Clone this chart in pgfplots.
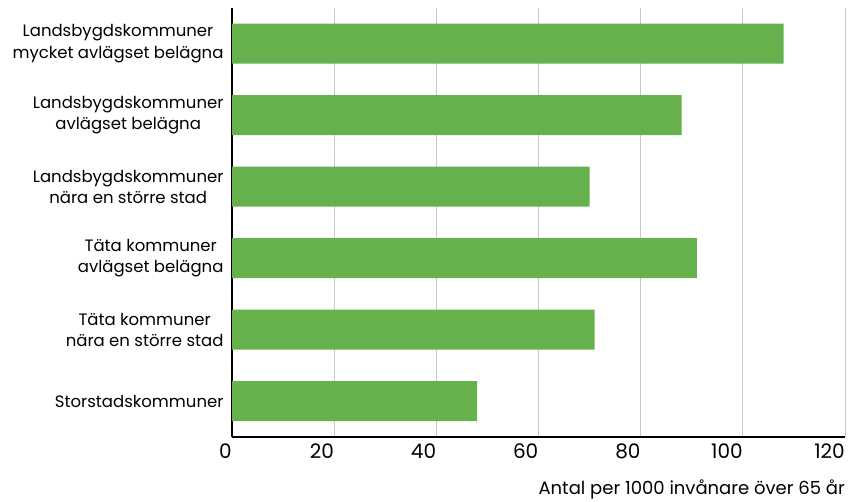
\documentclass[border=0pt]{standalone}
\usepackage{pgfplots}
\pgfplotsset{compat=1.18}
\usepackage{fontspec}
\setmainfont{Poppins}
\definecolor{barGreen}{RGB}{103,177,77}
\definecolor{gridGray}{RGB}{200,200,200}
\begin{document}
\begin{tikzpicture}[x=1pt,y=1pt]
\begin{axis}[
  at={(232pt,65pt)},
  anchor=south west,
  scale only axis,
  width=613pt, height=429pt,
  xbar, bar width=40pt,
  xmin=0, xmax=120,
  ymin=-0.5, ymax=5.5,
  xtick={0,20,...,120},
  ytick={0,...,5},
  yticklabels={
    Storstadskommuner,
    {Täta kommuner\\nära en större stad},
    {Täta kommuner\\avlägset belägna},
    {Landsbygdskommuner\\nära en större stad},
    {Landsbygdskommuner\\avlägset belägna},
    {Landsbygdskommuner\\mycket avlägset belägna}},
  yticklabel style={align=center, font=\fontsize{16.5}{21.5}\selectfont, xshift=-5pt},
  xticklabel style={font=\fontsize{20}{22}\selectfont, anchor=north east, inner xsep=0pt, yshift=-3pt},
  /pgf/number format/assume math mode=true,
  major tick length=0pt,
  axis lines=left,
  axis line style={-, black, line width=1.4pt},
  xmajorgrids,
  grid style={gridGray, line width=0.9pt},
  clip=false,
]
\addplot[fill=barGreen, draw=none] coordinates {
  (48,0) (71,1) (91,2) (70,3) (88,4) (108,5)
};
\end{axis}
\node[anchor=south east, font=\fontsize{18}{20}\selectfont, inner sep=0pt] at (845pt,3pt) {Antal per 1000 invånare över 65 år};
\path (0,0) rectangle (849pt,502pt);
\end{tikzpicture}
\end{document}
